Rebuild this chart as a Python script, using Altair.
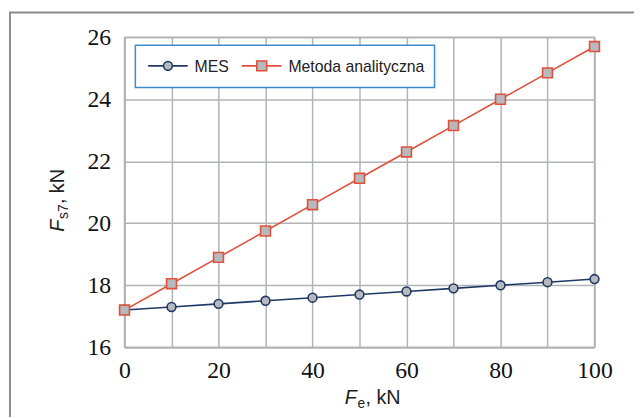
import altair as alt
import pandas as pd

# ---- data ----
fe = [0, 10, 20, 30, 40, 50, 60, 70, 80, 90, 100]
mes = [17.2, 17.3, 17.4, 17.5, 17.6, 17.7, 17.8, 17.9, 18.0, 18.1, 18.2]
analytic = [17.2, 18.05, 18.9, 19.75, 20.6, 21.45, 22.3, 23.15, 24.0, 24.85, 25.7]
series_names = ["MES", "Metoda analityczna"]
x_ticks = [0, 10, 20, 30, 40, 50, 60, 70, 80, 90, 100]
y_ticks = [16, 18, 20, 22, 24, 26]

NAVY = "#1f3864"
RED = "#e0503a"
GREY_FILL = "#b6babe"
GRID = "#b0b4b8"
SANS = "Liberation Sans"
SERIF = "Liberation Serif"

W, H = 476, 314

df = pd.DataFrame({
    "Fe": fe * 2,
    "val": mes + analytic,
    "series": [series_names[0]] * len(fe) + [series_names[1]] * len(fe),
})
one = pd.DataFrame({"k": [0]})

x_enc = alt.X("Fe:Q", scale=alt.Scale(domain=[0, 100], nice=False),
              axis=alt.Axis(values=x_ticks, title=None,
                            labelExpr="datum.value % 20 == 0 ? datum.label : ''"))
y_enc = alt.Y("val:Q", scale=alt.Scale(domain=[16, 26], nice=False, zero=False),
              axis=alt.Axis(values=y_ticks, title=None))

frame = alt.Chart(one).mark_rect(fillOpacity=0, stroke="#8c8c8c", strokeWidth=2).encode(
    x=alt.value(-116), y=alt.value(-25), x2=alt.value(800), y2=alt.value(600))

def series_layers(name, color, shape, size):
    d = alt.Chart(df).transform_filter(alt.datum.series == name)
    line = d.mark_line(color=color, strokeWidth=1.6).encode(x=x_enc, y=y_enc)
    pts = d.mark_point(shape=shape, size=size, filled=True, fill=GREY_FILL,
                       stroke=color, strokeWidth=1.6, opacity=1).encode(x=x_enc, y=y_enc)
    return [line, pts]

mes_layers = series_layers(series_names[0], NAVY, "circle", 80)
ana_layers = series_layers(series_names[1], RED, "square", 100)

# ---- legend (manual) ----
lg = alt.Chart(one)
legend_box = lg.mark_rect(fill="white", stroke="#3c8dd0", strokeWidth=1.5).encode(
    x=alt.value(11), y=alt.value(8), x2=alt.value(314), y2=alt.value(51))
ly = 29
leg = [legend_box]
for name, color, shape, size, x0 in [
    (series_names[0], NAVY, "circle", 80, 24),
    (series_names[1], RED, "square", 100, 119),
]:
    leg.append(lg.mark_rule(color=color, strokeWidth=1.6).encode(
        x=alt.value(x0), x2=alt.value(x0 + 40), y=alt.value(ly)))
    leg.append(lg.mark_point(shape=shape, size=size, filled=True, fill=GREY_FILL,
                             stroke=color, strokeWidth=1.6, opacity=1).encode(
        x=alt.value(x0 + 20), y=alt.value(ly)))
    leg.append(lg.mark_text(font=SANS, fontSize=16, color="#222", align="left",
                            baseline="middle").encode(
        x=alt.value(x0 + 47), y=alt.value(ly + 1), text=alt.value(name)))

# ---- axis titles (rich text pieces) ----
def tx(text, x, y, size=20, italic=False, angle=0):
    kw = dict(font=SANS, fontSize=size, color="#222", align="left", baseline="alphabetic")
    if italic:
        kw["fontStyle"] = "italic"
    if angle:
        kw["angle"] = angle
    return alt.Chart(one).mark_text(**kw).encode(
        x=alt.value(x), y=alt.value(y), text=alt.value(text))

titles = [
    tx("F", 223, 371, italic=True),
    tx("e", 236, 375, size=14),
    tx(", kN", 244, 371),
    tx("F", -61, 197, italic=True, angle=270),
    tx("s7", -57, 184, size=14, angle=270),
    tx(", kN", -61, 169, angle=270),
]

chart = alt.layer(frame, *mes_layers, *ana_layers, *leg, *titles).properties(
    width=W, height=H,
    autosize=alt.AutoSizeParams(type="none"),
    padding={"left": 118, "top": 27, "right": 40, "bottom": 68},
).configure_axis(
    grid=True, gridColor=GRID, gridWidth=1.5, domainColor=GRID, domainWidth=1.5,
    tickSize=0, labelFont=SERIF, labelFontSize=24, labelColor="#111",
    labelPadding=12, labelFlush=False, labelOverlap=False,
).configure_axisY(labelPadding=14).configure_view(stroke=GRID, strokeWidth=1.5)

chart.save("out.html", embed_options={"renderer": "svg", "actions": False})
